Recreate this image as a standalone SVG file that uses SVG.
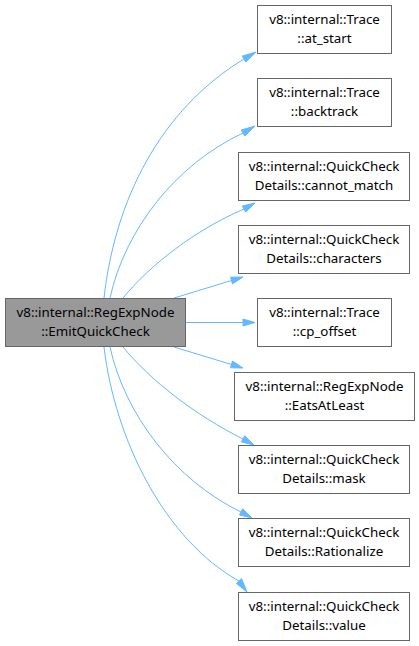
<svg xmlns="http://www.w3.org/2000/svg" width="419" height="646" viewBox="0 0 419 646">
<style>
.box{fill:#ffffff;stroke:#666666;stroke-width:1}
.main{fill:#999999;stroke:#666666;stroke-width:1}
text{font-family:"Noto Sans","DejaVu Sans",sans-serif;font-size:13.33px;fill:#000000;text-anchor:middle}
.edge path{fill:none;stroke:#63b8ff;stroke-width:1}
.edge polygon{fill:#63b8ff;stroke:#63b8ff;stroke-width:1}
</style>
<rect width="419" height="646" fill="#ffffff"/>
<g id="connectors" class="edge">
<path d="M104,298 C115,200 160,110 244,59"/><polygon points="242.2,56 245.8,62 256,52"/>
<path d="M110,298 C125,230 175,165 243,133"/><polygon points="241.2,130 244.8,136 255,126"/>
<path d="M123,298 C150,265 195,230 244,209"/><polygon points="242.3,206 245.7,212 255,203"/>
<path d="M174,298 L231.5,280.5"/><polygon points="230.5,277.2 232.5,283.9 243,277"/>
<path d="M185,322.5 L243,322.5"/><polygon points="243,319 243,326 255,322.5"/>
<path d="M174,347 L231.5,364.5"/><polygon points="230.5,367.8 232.5,361.1 243,368"/>
<path d="M123,347 C150,380 195,415 243,439"/><polygon points="241.5,442 244.6,435.8 254,445"/>
<path d="M110,347 C125,415 175,480 241,512"/><polygon points="239.5,515 242.6,508.8 252,518"/>
<path d="M104,347 C115,440 165,540 239,581"/><polygon points="236.4,583.4 241.6,578.6 247,592"/>
</g>
<g id="node_main"><rect class="main" x="5.5" y="298.5" width="180" height="48"/><text x="95.5" y="317">v8::internal::RegExpNode</text><text x="95.5" y="335.5">::EmitQuickCheck</text></g>
<g id="node_at_start"><rect class="box" x="257.5" y="5.5" width="134" height="48"/><text x="324.5" y="24">v8::internal::Trace</text><text x="324.5" y="42.5">::at_start</text></g>
<g id="node_backtrack"><rect class="box" x="257.5" y="78.5" width="134" height="48"/><text x="324.5" y="97">v8::internal::Trace</text><text x="324.5" y="115.5">::backtrack</text></g>
<g id="node_cannot_match"><rect class="box" x="238.5" y="152.5" width="171" height="48"/><text x="324" y="171">v8::internal::QuickCheck</text><text x="324" y="189.5">Details::cannot_match</text></g>
<g id="node_characters"><rect class="box" x="238.5" y="225.5" width="171" height="48"/><text x="324" y="244">v8::internal::QuickCheck</text><text x="324" y="262.5">Details::characters</text></g>
<g id="node_cp_offset"><rect class="box" x="257.5" y="298.5" width="134" height="48"/><text x="324.5" y="317">v8::internal::Trace</text><text x="324.5" y="335.5">::cp_offset</text></g>
<g id="node_EatsAtLeast"><rect class="box" x="234.5" y="372.5" width="180" height="48"/><text x="324.5" y="391">v8::internal::RegExpNode</text><text x="324.5" y="409.5">::EatsAtLeast</text></g>
<g id="node_mask"><rect class="box" x="238.5" y="445.5" width="171" height="48"/><text x="324" y="464">v8::internal::QuickCheck</text><text x="324" y="482.5">Details::mask</text></g>
<g id="node_Rationalize"><rect class="box" x="238.5" y="518.5" width="171" height="48"/><text x="324" y="537">v8::internal::QuickCheck</text><text x="324" y="555.5">Details::Rationalize</text></g>
<g id="node_value"><rect class="box" x="238.5" y="592.5" width="171" height="48"/><text x="324" y="611">v8::internal::QuickCheck</text><text x="324" y="629.5">Details::value</text></g>
</svg>
